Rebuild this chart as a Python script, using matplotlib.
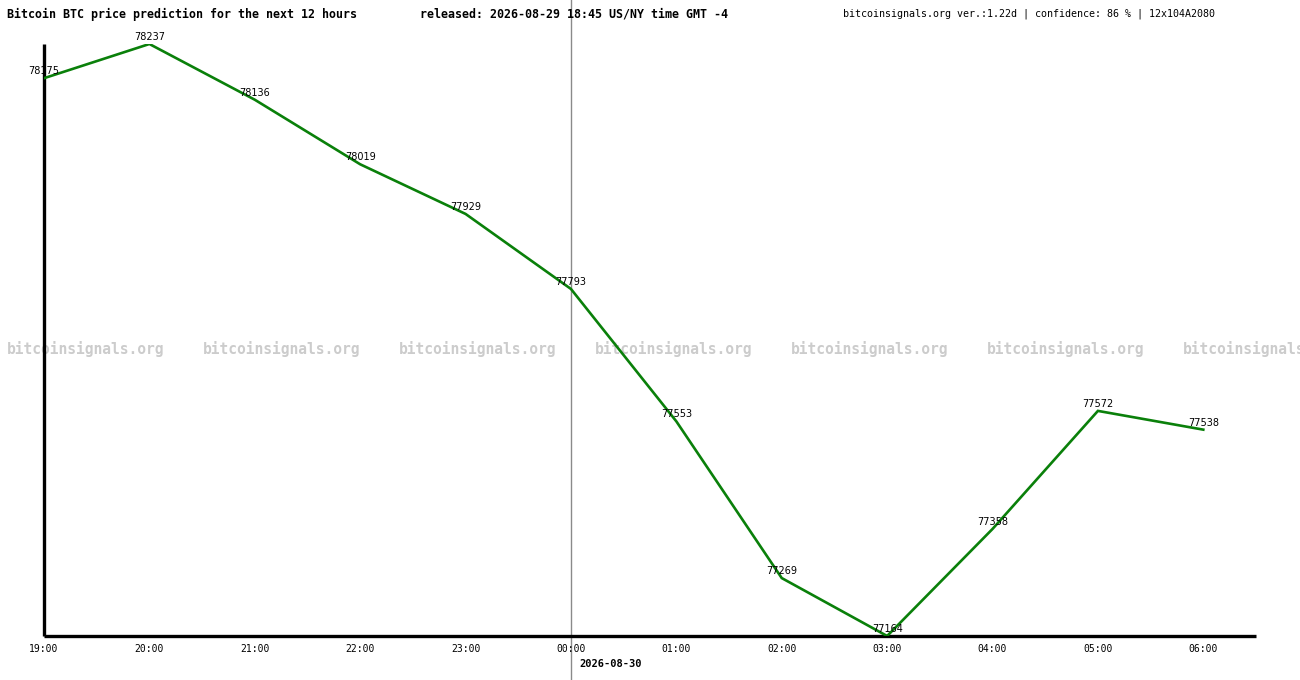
import matplotlib
matplotlib.use('Agg')
import matplotlib.pyplot as plt

# predicted prices, one per hour
hours = ['19:00', '20:00', '21:00', '22:00', '23:00', '00:00',
         '01:00', '02:00', '03:00', '04:00', '05:00', '06:00']
prices = [78175, 78237, 78136, 78019, 77929, 77793,
          77553, 77269, 77164, 77358, 77572, 77538]
new_day_index = 5
new_day_label = '2026-08-30'

title_left = 'Bitcoin BTC price prediction for the next 12 hours'
title_mid = 'released: 2026-08-29 18:45 US/NY time GMT -4'
title_right = 'bitcoinsignals.org ver.:1.22d | confidence: 86 % | 12x104A2080'
watermark = 'bitcoinsignals.org'

W, H = 1300, 680
fig = plt.figure(figsize=(13, 6.8), dpi=100)
ax = fig.add_axes([44 / W, (H - 636) / H, (1256 - 44) / W, (636 - 44) / H])

x = list(range(len(hours)))
ax.plot(x, prices, color='#0a800a', lw=1.9, zorder=3, solid_joinstyle='miter')
for xi, p in zip(x, prices):
    ax.annotate(str(p), (xi, p), xytext=(0, 2), textcoords='offset pixels',
                ha='center', va='bottom', fontsize=7, family='DejaVu Sans',
                color='black', zorder=4, annotation_clip=False)

ax.set_xlim(0, 11.5)
ax.set_ylim(min(prices), max(prices))
ax.set_xticks(x)
ax.set_xticklabels(hours, family='DejaVu Sans Mono', fontsize=7)
ax.set_yticks([])
ax.tick_params(axis='x', length=0, pad=6)
for s in ['top', 'right']:
    ax.spines[s].set_visible(False)
for s in ['left', 'bottom']:
    ax.spines[s].set_linewidth(2.4)
    ax.spines[s].set_color('black')
    ax.spines[s].set_capstyle('butt')

# vertical day separator across the whole picture
ax.axvline(new_day_index, ymin=-0.1, ymax=1.1, color='#8a8a8a', lw=1,
           clip_on=False, zorder=1)
ax.annotate(new_day_label, (new_day_index, 0), xycoords=('data', 'axes fraction'),
            xytext=(8, -28), textcoords='offset pixels', ha='left', va='center',
            fontsize=7.5, fontweight='bold', family='DejaVu Sans Mono',
            annotation_clip=False)

# watermark row
for k in range(7):
    ax.text((7 + 196 * k) / W, 1 - 349 / H, watermark, transform=fig.transFigure,
            ha='left', va='center', fontsize=10.5, fontweight='bold',
            family='DejaVu Sans Mono', color='#cccccc', zorder=0, clip_on=False)

fig.text(7 / W, 1 - 14 / H, title_left, ha='left', va='center', fontsize=8.4,
         fontweight='bold', family='DejaVu Sans Mono')
fig.text(420 / W, 1 - 14 / H, title_mid, ha='left', va='center', fontsize=8.4,
         fontweight='bold', family='DejaVu Sans Mono')
fig.text(843 / W, 1 - 14 / H, title_right, ha='left', va='center', fontsize=7.2,
         family='DejaVu Sans Mono')

fig.savefig('out.png', dpi=100, facecolor='white')
